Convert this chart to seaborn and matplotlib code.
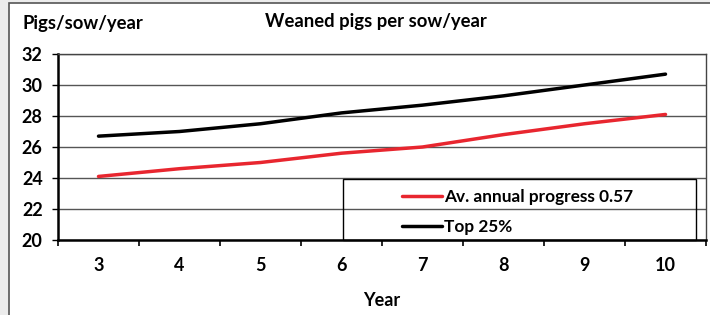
import pandas as pd
import matplotlib
matplotlib.use("Agg")
import matplotlib.pyplot as plt
from matplotlib.patches import Rectangle
from matplotlib.ticker import FixedLocator
import seaborn as sns

# ---- data ----
years = ["3", "4", "5", "6", "7", "8", "9", "10"]
avg_progress = [24.1, 24.6, 25.0, 25.6, 26.0, 26.8, 27.5, 28.1]
top_25 = [26.7, 27.0, 27.5, 28.2, 28.7, 29.3, 30.0, 30.7]
series_names = ["Av. annual progress 0.57", "Top 25%"]
y_ticks = [20, 22, 24, 26, 28, 30, 32]

df = pd.concat([
    pd.DataFrame({"year": years, "pigs": avg_progress, "series": series_names[0]}),
    pd.DataFrame({"year": years, "pigs": top_25, "series": series_names[1]}),
])

sns.set_theme(style="white")
plt.rcParams["font.family"] = ["Lato", "DejaVu Sans"]
plt.rcParams["font.weight"] = "bold"
plt.rcParams["axes.labelweight"] = "bold"
plt.rcParams["text.color"] = "black"
plt.rcParams["xtick.color"] = "black"
plt.rcParams["ytick.color"] = "black"
plt.rcParams["axes.labelcolor"] = "black"

fig = plt.figure(figsize=(7.1, 3.15), dpi=100, facecolor="#ececec")
# outer panel frame
fig.patches.append(Rectangle((9 / 710, -0.05), 1.0, 1 - 3 / 315 + 0.05, transform=fig.transFigure,
                             facecolor="white", edgecolor="#555555", linewidth=1.2, zorder=-5))
ax = fig.add_axes([58 / 710, 75 / 315, 648 / 710, 186 / 315])
ax.set_facecolor("none")

sns.lineplot(data=df, x="year", y="pigs", hue="series", palette=["#e8262f", "#000000"],
             linewidth=2.5, legend=False, ax=ax, sort=False, zorder=3)

ax.set_ylim(20, 32)
ax.set_xlim(-0.5, len(years) - 0.5)
ax.set_yticks(y_ticks)
ax.yaxis.grid(True, color="#555555", linewidth=1.0)
ax.set_axisbelow(True)

ax.set_xticks(range(len(years)))
ax.set_xticklabels(years)
ax.xaxis.set_minor_locator(FixedLocator([i - 0.5 for i in range(len(years) + 1)]))
ax.tick_params(axis="x", which="major", length=0, pad=12, labelsize=13)
ax.tick_params(axis="x", which="minor", length=4, width=1.2, color="black", direction="out", bottom=True)
ax.tick_params(axis="y", length=4, width=1.0, color="black", direction="out", left=True, pad=7, labelsize=13)

for side in ["left", "bottom"]:
    ax.spines[side].set_color("black")
    ax.spines[side].set_linewidth(1.8)
for side in ["top", "right"]:
    ax.spines[side].set_color("#444444")
    ax.spines[side].set_linewidth(1.0)

ax.set_xlabel("Year", fontsize=13, labelpad=13)
ax.set_ylabel("")
fig.text(23 / 710, 1 - 24 / 315, "Pigs/sow/year", fontsize=13.3, va="center", ha="left")
fig.text(376 / 710, 1 - 22 / 315, "Weaned pigs per sow/year", fontsize=13.3, va="center", ha="center")

# legend inside a box on the lower right
handles = [plt.Line2D([], [], color="#e8262f", linewidth=2.5),
           plt.Line2D([], [], color="#000000", linewidth=2.5)]
ax.add_patch(Rectangle((0.44, 0.0), 0.545, 0.328, transform=ax.transAxes, facecolor="none",
                       edgecolor="black", linewidth=1.0, zorder=2, clip_on=False))
ax.legend(handles, series_names, loc="center left", bbox_to_anchor=(0.518, 0.15), frameon=False,
          fontsize=12.4, handlelength=2.3, handletextpad=0.15, labelspacing=0.8, borderpad=0)

plt.savefig("out.png", dpi=100, facecolor=fig.get_facecolor())
